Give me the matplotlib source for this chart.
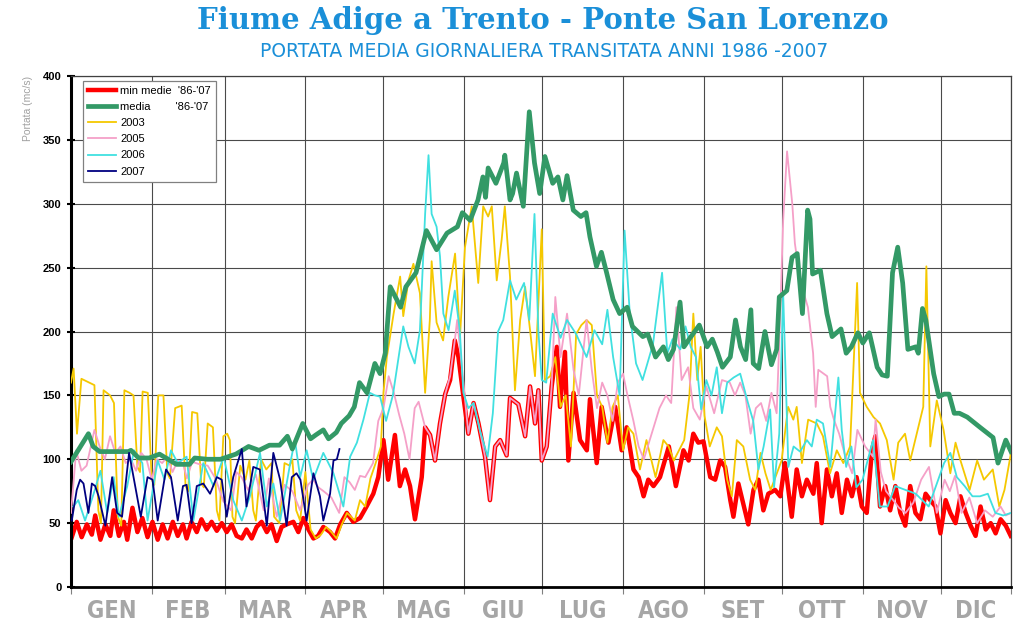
import matplotlib
matplotlib.use("Agg")
import matplotlib.pyplot as plt

# month names and first day of each month (day 0 = 1 Jan)
months = ['GEN', 'FEB', 'MAR', 'APR', 'MAG', 'GIU', 'LUG', 'AGO', 'SET', 'OTT', 'NOV', 'DIC']
month_start = [0, 31, 59, 90, 120, 151, 181, 212, 243, 273, 304, 334]
last_day = 361

# (day, portata m3/s)
min_medie = [
    (0.3, 39), (2.2, 51), (4.1, 39), (6.1, 49), (8, 41), (9.3, 56), (11.3, 37), (13.2, 49), (15.1, 40),
    (16.4, 60), (18.4, 40), (20.3, 51), (21.6, 37), (23.6, 62), (25.5, 43), (27.4, 54), (29.4, 39),
    (31.3, 51), (33.3, 37), (35.2, 49), (37.1, 38), (39.1, 51), (41, 40), (43, 49), (44.4, 38), (46.3, 51),
    (48.3, 43), (50.1, 53), (52.1, 45), (54, 51), (56, 44), (57.9, 50), (59.8, 43), (61.7, 49), (63.6, 40),
    (65.6, 38), (67.4, 45), (69.4, 38), (71.3, 47), (73.2, 51), (75.2, 43), (77, 49), (79, 36), (80.9, 47),
    (82.8, 49), (85.4, 51), (87.3, 43), (89.2, 54), (91.2, 45), (93.1, 38), (94.9, 40), (96.9, 47),
    (99.5, 43), (101.4, 38), (103.4, 49), (105.9, 58), (108.4, 51), (111, 54), (113.5, 63), (116.1, 73),
    (118, 86), (120, 115), (121.8, 84), (124.4, 119), (126.3, 79), (128.3, 92), (130.2, 79), (132.1, 53),
    (134.7, 86), (136, 125), (137.9, 119), (139.8, 99), (141.7, 128), (143.7, 151), (145.6, 162),
    (147.4, 193), (148.8, 180), (150.7, 149), (152.6, 120), (154.6, 144), (156.5, 128), (159, 102),
    (160.9, 68), (162.9, 110), (164.8, 115), (167.3, 103), (168.6, 148), (171.8, 143), (174.4, 118),
    (176.3, 157), (178.2, 128), (179.5, 154), (180.8, 99), (182.7, 110), (184.6, 157), (186.6, 188),
    (187.8, 141), (189.7, 184), (191, 99), (193, 152), (195.5, 115), (198.1, 107), (199.3, 147),
    (201.9, 97), (203.8, 141), (206.4, 113), (209, 141), (211.5, 107), (213.4, 125), (216, 92), (218, 86),
    (219.9, 71), (221.7, 84), (223.7, 79), (226.2, 86), (229.6, 110), (232.3, 79), (235.2, 107),
    (237.2, 99), (239, 120), (240.9, 113), (242.9, 114), (245.5, 86), (247.4, 84), (249.3, 99),
    (251.2, 94), (253.2, 68), (254.4, 55), (256.3, 81), (258.2, 65), (260.1, 49), (262.1, 76), (264, 84),
    (265.9, 60), (267.8, 73), (270.4, 76), (272.4, 71), (274.2, 97), (276.8, 55), (278.7, 92),
    (280.7, 71), (282.6, 84), (285.1, 73), (286.4, 97), (288.3, 50), (290.3, 92), (292.2, 71),
    (294.1, 89), (296, 58), (298, 84), (299.9, 71), (301.7, 86), (303.7, 63), (305.6, 58), (307.6, 107),
    (308.9, 118), (310.7, 63), (312.7, 79), (314.6, 60), (316.6, 79), (318.5, 58), (320.4, 48),
    (322.3, 79), (324.3, 58), (326.2, 53), (328.2, 73), (330, 68), (332, 63), (333.9, 42), (335.9, 68),
    (337.7, 58), (339.7, 50), (341.6, 71), (343.6, 58), (345.5, 48), (347.4, 40), (349.3, 63),
    (351.3, 45), (353.2, 50), (355.1, 42), (357, 53), (359, 48), (360.9, 40),
]

media = [
    (0, 98), (6.7, 120), (8.5, 110), (11, 106), (16, 106), (22, 106), (23, 107), (26, 101), (30, 101),
    (34, 104), (40.5, 96), (45.5, 96), (47.5, 101), (52.4, 100), (55.4, 100), (57.4, 100), (63.3, 104),
    (68.2, 110), (72.2, 107), (76.2, 111), (80.1, 111), (83.1, 118), (85, 108), (89, 128), (92, 116),
    (94, 119), (96.9, 123), (98.9, 116), (101.9, 121), (103.8, 128), (106.8, 134), (108.8, 141),
    (110.8, 160), (113.7, 152), (116.7, 175), (118.7, 167), (120.7, 183), (122.6, 235), (126.6, 219),
    (128.6, 235), (132.5, 246), (136.5, 279), (140.4, 264), (144.4, 277), (148.4, 282), (150.3, 293),
    (153.3, 287), (156.3, 303), (158.2, 321), (159.2, 305), (160.2, 328), (163.2, 316), (166.2, 332),
    (166.6, 338), (168.6, 303), (169.6, 308), (171.1, 324), (173.7, 298), (176, 372), (178, 332),
    (180, 308), (182, 337), (185, 316), (187, 321), (188.9, 303), (190.5, 322), (192.9, 295),
    (195.8, 290), (197.8, 293), (199.3, 274), (201.8, 251), (203.7, 262), (205.7, 246), (208.2, 225),
    (210.7, 214), (213.6, 219), (215.6, 204), (219.6, 196), (221.5, 198), (224.5, 180), (227.5, 188),
    (229.4, 178), (231.4, 186), (233.9, 223), (235.4, 188), (237.4, 194), (241.3, 205), (244.3, 188),
    (246.3, 194), (248.2, 184), (250.2, 172), (253.2, 180), (255.2, 209), (257.1, 188), (259.1, 178),
    (261.1, 217), (262, 175), (264.1, 171), (266.5, 200), (269, 174), (271, 186), (272, 227),
    (274.9, 232), (276.9, 258), (278.9, 261), (280.9, 214), (282.9, 295), (283.8, 288), (284.8, 245),
    (287.8, 248), (290.3, 214), (292.3, 196), (295.7, 202), (297.7, 183), (299.7, 188), (302.2, 199),
    (304.1, 191), (306.6, 199), (309.6, 172), (311.5, 166), (313.5, 165), (315.5, 246), (317.5, 266),
    (319.4, 238), (321.4, 186), (324.4, 188), (325.4, 183), (327, 218), (328.3, 209), (331.3, 167),
    (333.3, 149), (335.3, 151), (337.2, 151), (339.2, 136), (341.2, 136), (344.2, 133), (349.1, 125),
    (354.1, 117), (356, 97), (359, 115), (361, 106),
]

y2003 = [
    (0, 160), (1, 171), (2.3, 120), (4, 163), (7, 160), (9, 158), (10.5, 60), (11.5, 50), (12.5, 154),
    (15, 150), (16.5, 144), (18, 55), (19.3, 48), (20.5, 154), (22.5, 152), (24, 150), (25.5, 94),
    (26.5, 90), (27.5, 153), (29.5, 152), (31, 84), (32, 80), (33.5, 150), (35.5, 150), (37, 89),
    (38, 85), (40, 140), (42.5, 142), (44, 79), (45, 75), (46.5, 137), (48.5, 136), (50, 81), (51, 78),
    (52.5, 128), (54.5, 125), (56, 60), (57, 52), (58.5, 118), (60, 120), (61, 115), (62, 55), (63, 50),
    (65, 95), (67, 84), (68.5, 99), (70, 60), (71, 52), (73, 100), (75, 92), (77, 97), (78, 55), (80, 50),
    (82, 97), (84, 95), (85, 100), (86.5, 60), (88, 52), (90, 90), (92, 45), (94, 38), (96, 41), (98, 47),
    (100, 43), (102, 38), (104, 49), (106, 58), (109, 52), (111, 68), (113, 63), (115, 85), (117, 97),
    (119, 110), (120, 152), (121.3, 180), (123.9, 214), (126.4, 243), (127.6, 212), (129.6, 240),
    (131.5, 253), (134, 230), (136, 152), (137.8, 209), (138.5, 255), (140.4, 207), (142.9, 193),
    (144.9, 227), (147.5, 261), (149.4, 196), (151.3, 266), (153.9, 298), (156.4, 238), (158.3, 298),
    (160.2, 290), (161.6, 298), (163.5, 240), (165.4, 272), (166.6, 298), (168.6, 243), (170.5, 154),
    (172.5, 209), (174.4, 235), (176.3, 201), (178.2, 165), (180.8, 280), (182, 162), (184, 165),
    (186, 180), (188, 141), (190, 150), (192, 110), (194, 198), (196, 205), (198, 209), (200, 205),
    (202, 150), (204, 141), (206, 113), (208, 141), (210, 150), (212, 107), (214, 125), (216, 120),
    (218.5, 92), (221, 115), (224.5, 86), (227.5, 115), (229.5, 110), (231.5, 99), (235.5, 115),
    (237.5, 150), (239, 214), (240.5, 162), (241.8, 188), (243.3, 134), (245.3, 110), (248, 125),
    (250, 118), (252, 84), (253.8, 71), (255.7, 115), (258.2, 110), (260.8, 84), (262.8, 76),
    (264.8, 105), (266.7, 89), (268.7, 76), (272.9, 99), (275.4, 141), (277.4, 131), (278.7, 141),
    (280.7, 97), (283.1, 131), (286.4, 128), (288.8, 118), (291.5, 89), (294.1, 107), (296.6, 97),
    (299.2, 110), (301.9, 238), (303, 152), (305.6, 141), (308.2, 133), (310.7, 128), (313.3, 115),
    (315.9, 84), (317.7, 113), (320.3, 120), (322.3, 99), (324.8, 120), (327.3, 141), (328.5, 251),
    (330, 110), (332.5, 146), (335.1, 123), (337.7, 89), (339.7, 113), (341.6, 99), (345.1, 76),
    (348, 99), (350.6, 84), (354, 92), (356.5, 63), (358.5, 76), (361, 105),
]

y2005 = [
    (0, 58), (2, 107), (4, 91), (6, 95), (9, 123), (11, 110), (13, 100), (15, 118), (17, 105), (19, 110),
    (21, 97), (23, 100), (25, 91), (27, 105), (29, 100), (31, 84), (33, 100), (35, 97), (37, 102),
    (39, 90), (41, 99), (43, 97), (44.5, 85), (46.5, 98), (49.5, 96), (52.5, 95), (55.5, 85), (58.5, 67),
    (61.5, 60), (63.5, 90), (65.5, 86), (68, 76), (71, 88), (74, 60), (76, 85), (79, 55), (82, 80),
    (85, 75), (88, 60), (91, 80), (93, 84), (95, 78), (97, 75), (100, 70), (103, 58), (105, 86),
    (107, 82), (109, 76), (111, 87), (113, 86), (116, 97), (118, 130), (120, 140), (122, 165),
    (124, 152), (126, 135), (128, 120), (130, 100), (132, 140), (133.5, 145), (136, 125), (137.9, 119),
    (139.8, 99), (141.7, 128), (143.7, 151), (145.6, 165), (147.4, 193), (148.3, 209), (150.7, 160),
    (152.6, 120), (154.6, 144), (156.5, 128), (159, 102), (160.9, 68), (162.9, 110), (164.8, 115),
    (167.3, 103), (168.6, 148), (171.8, 143), (174.4, 118), (176.3, 157), (178.2, 128), (179.5, 154),
    (180.8, 99), (182.7, 110), (184.6, 157), (186, 227), (188, 180), (190.5, 214), (193, 170),
    (195, 150), (198, 209), (200, 170), (202, 140), (204, 160), (206, 150), (208, 130), (210, 160),
    (212, 167), (213.5, 152), (216, 130), (218, 110), (220, 100), (223, 120), (226, 140), (228.5, 150),
    (230.5, 144), (232.5, 219), (234.5, 162), (237, 172), (239, 140), (241.5, 131), (244, 157),
    (247, 136), (250, 162), (253, 160), (255, 150), (257, 160), (259, 150), (261, 120), (263, 140),
    (265, 144), (267, 130), (269, 152), (271, 136), (272.3, 209), (273.5, 287), (275, 341), (277, 300),
    (278, 269), (280, 240), (283, 219), (285, 183), (286, 141), (287, 170), (289, 167), (290.4, 165),
    (291.6, 141), (293, 131), (295, 120), (297, 105), (300, 89), (302, 123), (305, 110), (308, 102),
    (309, 131), (311, 90), (313, 75), (315, 70), (318, 62), (320.5, 58), (323.5, 66), (326.5, 84),
    (329.5, 94), (332.5, 58), (335.5, 84), (337.5, 75), (339.5, 87), (342, 58), (345, 70), (348, 50),
    (351, 60), (354, 55), (357, 63), (359, 56), (361, 58),
]

y2006 = [
    (0.9, 63), (2.8, 68), (5.4, 52), (8.7, 73), (11.3, 91), (13.9, 58), (16.4, 86), (18.4, 55),
    (21.6, 79), (24.2, 107), (27.4, 97), (29.4, 52), (33.3, 99), (35.9, 84), (38.4, 107), (41, 97),
    (44.4, 102), (47, 52), (50.8, 97), (54.7, 79), (58.6, 102), (62.3, 68), (65.6, 52), (68.7, 71),
    (72.6, 105), (75.2, 63), (77.7, 81), (80.3, 52), (84.2, 97), (86, 115), (88, 86), (90.5, 107),
    (93, 84), (96.9, 105), (100.8, 89), (104.6, 63), (107.2, 102), (109.8, 113), (112.3, 131),
    (114.8, 152), (116.7, 150), (118.7, 149), (121, 130), (123.6, 150), (127.6, 204), (129.6, 188),
    (132, 175), (134, 201), (136, 292), (137.3, 338), (138.5, 292), (140.4, 282), (141.7, 259),
    (143, 214), (145, 201), (147.4, 232), (149.3, 201), (150.7, 152), (152.6, 140), (154.6, 144),
    (157, 123), (160, 102), (162, 136), (164, 200), (166, 209), (168.6, 240), (171, 225), (174, 238),
    (176, 209), (178, 292), (179.5, 200), (180.8, 162), (182.5, 160), (185, 214), (188, 195),
    (190.5, 209), (194, 198), (198, 180), (201, 201), (204, 190), (206, 217), (208.2, 180), (210.7, 150),
    (212.6, 279), (214.6, 214), (217, 175), (219.5, 162), (223.5, 190), (227, 246), (229, 183),
    (231, 194), (234, 186), (236, 204), (238, 188), (240, 180), (242, 139), (244, 162), (246, 150),
    (248, 172), (250, 136), (252, 160), (254.5, 164), (257, 167), (260, 144), (262, 130), (264, 92),
    (266, 110), (268.5, 139), (270, 78), (272, 120), (273.5, 230), (275.5, 94), (277.5, 110),
    (280, 106), (282.6, 115), (284.5, 110), (286.4, 131), (288.8, 128), (291.6, 94), (294.7, 164),
    (296, 123), (297.7, 94), (299.7, 110), (301.6, 78), (304, 84), (308, 115), (310.6, 63),
    (313.6, 63), (316.5, 79), (320.5, 76), (324.4, 73), (329.4, 63), (335.3, 97), (337.7, 105),
    (340.2, 86), (343.2, 79), (346.2, 71), (349.1, 71), (352.1, 73), (355, 58), (358, 56), (361, 58),
]

y2007 = [
    (0.3, 52), (2.2, 76), (3.5, 84), (4.8, 81), (6.7, 58), (8, 81), (9.3, 79), (10.6, 71), (13.2, 48),
    (15.8, 86), (17.7, 58), (19.6, 55), (22.3, 105), (24.2, 84), (26.8, 55), (29.4, 86), (31.3, 84),
    (33.3, 52), (36.5, 92), (38.4, 86), (41, 52), (43, 79), (44.4, 80), (46.3, 50), (48.3, 79),
    (50.8, 81), (53.4, 73), (56, 86), (57.9, 84), (59.8, 55), (62.3, 86), (65.6, 108), (67.4, 63),
    (70, 94), (72.5, 92), (75.2, 48), (77.7, 105), (80.3, 84), (82.8, 48), (84.8, 86), (86.6, 89),
    (88.1, 84), (90.5, 52), (93.1, 89), (95.6, 71), (96.9, 52), (99.5, 73), (100.8, 99), (102.1, 100),
    (103.1, 108),
]

# label, data, colour, width, zorder
series = [
    ("min medie  '86-'07", min_medie, '#ff0000', 3.2, 2),
    ("media        '86-'07", media, '#339966', 3.4, 6),
    ("2003", y2003, '#f5c800', 1.3, 3),
    ("2005", y2005, '#f5a0c8', 1.3, 4),
    ("2006", y2006, '#40e0e0', 1.3, 5),
    ("2007", y2007, '#000080', 1.3, 7),
]

fig = plt.figure(figsize=(10.24, 6.39), dpi=100)
ax = fig.add_axes([71 / 1024, 1 - 587 / 639, 940 / 1024, 511 / 639])

handles = []
for label, data, col, lw, z in series:
    xs = [d for d, v in data]
    ys = [v for d, v in data]
    ln, = ax.plot(xs, ys, color=col, lw=lw, zorder=z, label=label, solid_joinstyle='round')
    handles.append(ln)

ax.set_xlim(0, last_day)
ax.set_ylim(0, 400)
ax.set_yticks(range(0, 401, 50))
ax.set_xticks(month_start + [last_day])
ax.set_xticklabels([])
mids = [(a + b) / 2 for a, b in zip(month_start, month_start[1:] + [last_day])]
ax.set_xticks(mids, minor=True)
ax.set_xticklabels(months, minor=True, color='#a6a6a6', fontsize=17, fontweight='bold',
                   family='DejaVu Sans', fontstretch='condensed')
ax.tick_params(axis='x', which='minor', length=0, pad=9)
ax.tick_params(axis='x', which='major', length=5, color='#808080', direction='out')
ax.tick_params(axis='y', direction='inout', length=6, width=1.5, pad=4)
for t in ax.get_yticklabels():
    t.set_fontweight('bold')
    t.set_fontsize(8)
    t.set_family('Liberation Sans')

ax.grid(True, color='#4a4a4a', lw=0.8, zorder=1)
ax.set_axisbelow(True)
ax.spines['left'].set_linewidth(2.2)
ax.spines['bottom'].set_linewidth(2)
for s in ('top', 'right'):
    ax.spines[s].set_linewidth(0.9)
    ax.spines[s].set_color('#404040')

leg = ax.legend(handles=handles, loc='upper left', bbox_to_anchor=(12 / 940, 1 - 5 / 511),
                borderaxespad=0, fancybox=False, edgecolor='#808080', framealpha=1,
                handlelength=2.5, labelspacing=0.55, borderpad=0.45, handletextpad=0.4,
                prop={'family': 'Liberation Sans', 'size': 8})
leg.get_frame().set_linewidth(0.9)
leg.set_zorder(10)

fig.text(0.530, 0.968, 'Fiume Adige a Trento - Ponte San Lorenzo', ha='center', va='center',
         color='#1a8fd8', fontsize=21, fontweight='bold', family='DejaVu Serif')
fig.text(0.531, 0.919, 'PORTATA MEDIA GIORNALIERA TRANSITATA ANNI 1986 -2007', ha='center',
         va='center', color='#1a8fd8', fontsize=13.5, family='DejaVu Sans')
fig.text(28 / 1024, 1 - 108 / 639, 'Portata (mc/s)', rotation=90, ha='center', va='center',
         color='#a0a0a0', fontsize=7.5, family='Liberation Sans')

fig.savefig('out.png', dpi=100)
